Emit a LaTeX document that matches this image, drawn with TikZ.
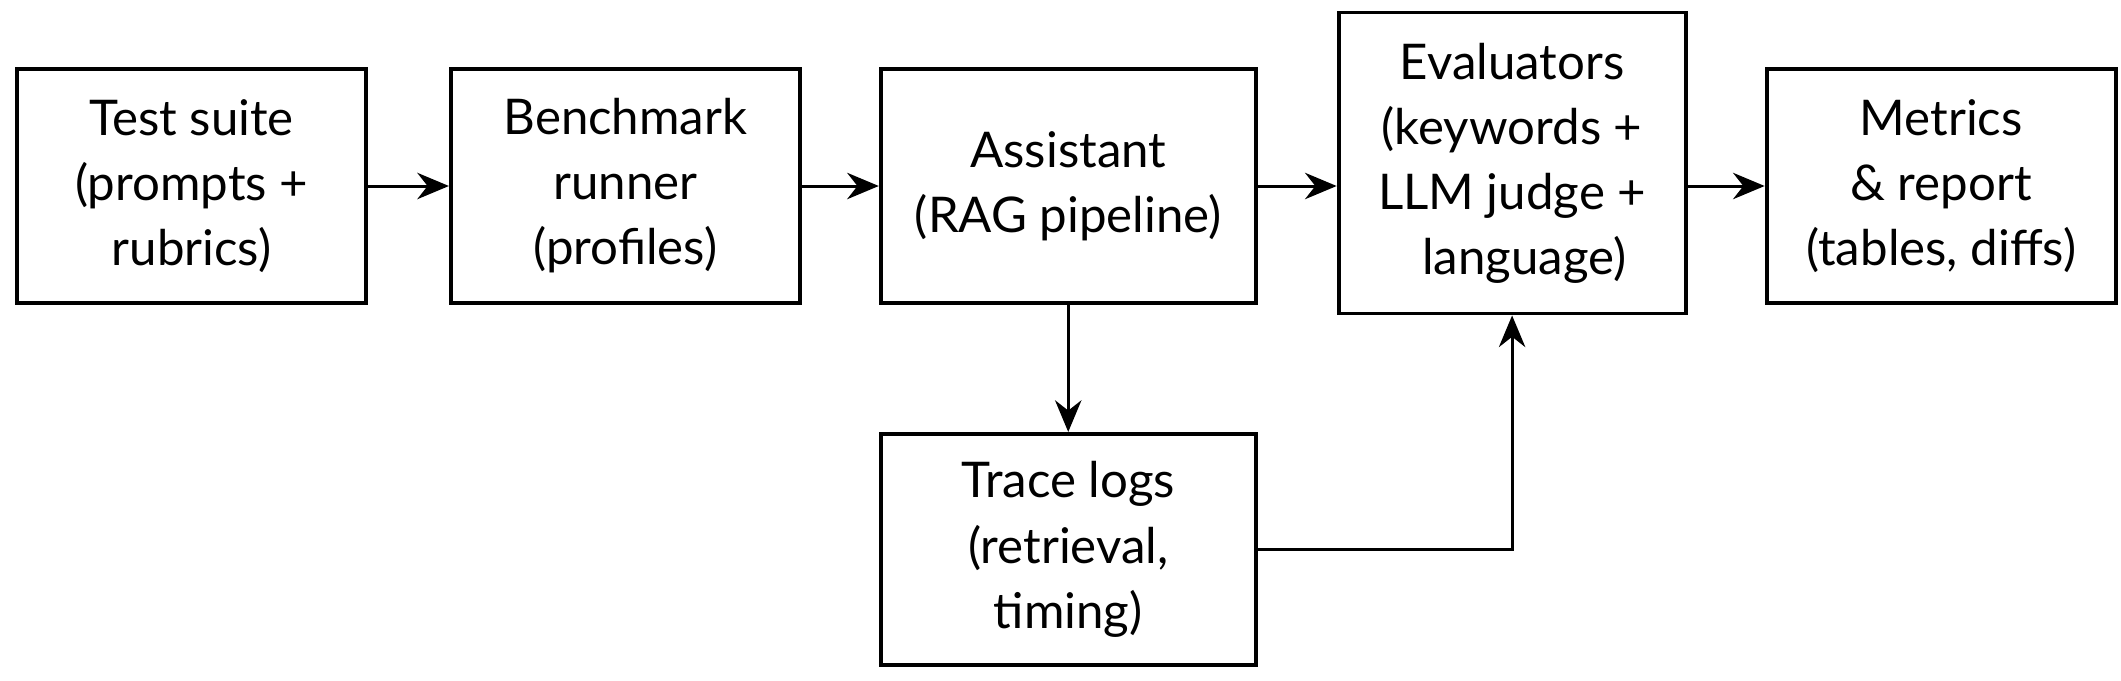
\documentclass[tikz,border=0pt]{standalone}
\usepackage{fontspec}
\setmainfont{Lato}
\usepackage{tikz}
\usetikzlibrary{arrows.meta,positioning}

\begin{document}
\begin{tikzpicture}[
    stage/.style={rectangle, draw=black, line width=1.1pt, align=center, inner sep=0pt,
      minimum width=3.49cm, minimum height=2.34cm, font=\fontsize{14}{18.5}\selectfont},
    flow/.style={-{Stealth[length=9pt,width=7.5pt]}, line width=0.85pt},
    node distance=0.8cm
    ]
    \useasboundingbox (0,0) rectangle (21.21,6.8);
    \node[stage] (TestSuite) at (1.915,4.94) {Test suite\\(prompts +\\rubrics)};
    \node[stage, right=0.81cm of TestSuite] (Runner) {Benchmark\\runner\\(profiles)};
    \node[stage, right=0.77cm of Runner, minimum width=3.75cm] (Assistant) {Assistant\\(RAG pipeline)};
    \node[stage, right=0.79cm of Assistant, minimum width=3.47cm, minimum height=3.01cm, yshift=0.23cm] (Evaluators) {Evaluators\\(keywords +\\LLM judge +\\\hspace*{0.5em}language)};
    \node[stage, right=0.8cm of Assistant.east, xshift=3.47cm+0.8cm, anchor=west] (Metrics) {Metrics\\\& report\\(tables, diffs)};
    \node[stage, below=1.27cm of Assistant, minimum width=3.75cm, minimum height=2.31cm] (TraceLogs) {Trace logs\\(retrieval,\\timing)};
    \draw[flow] (TestSuite) -- (Runner);
    \draw[flow] (Runner) -- (Assistant);
    \draw[flow] (Assistant.east) -- (Assistant.east -| Evaluators.west);
    \draw[flow] (Metrics.west -| Evaluators.east) -- (Metrics.west);
    \draw[flow] (Assistant) -- (TraceLogs);
    \draw[flow] (TraceLogs.east) -| (Evaluators.south);
  \end{tikzpicture}
\end{document}
